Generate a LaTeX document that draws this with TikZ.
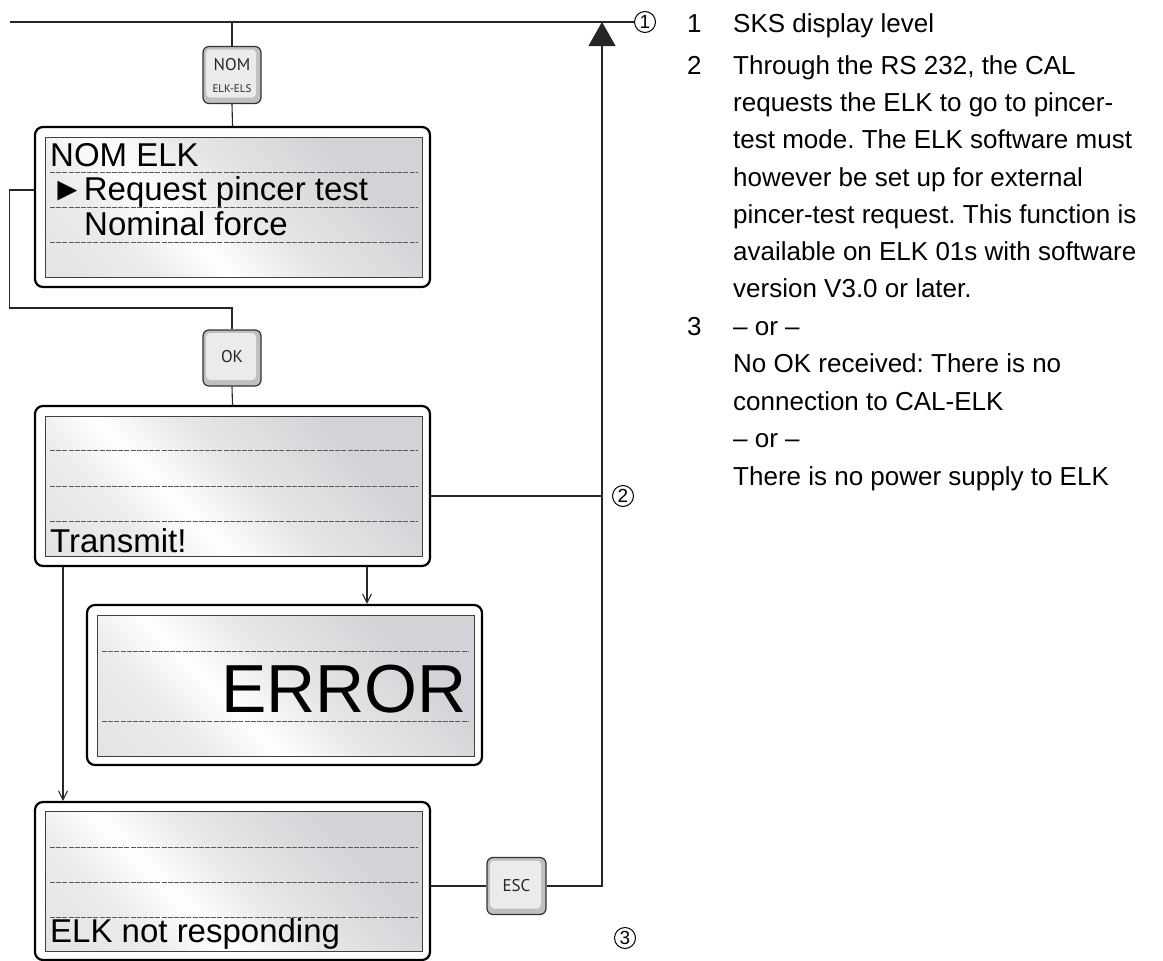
\documentclass[tikz,border=0pt]{standalone}
\usepackage{fontspec}
\setmainfont{Liberation Sans}
\newfontfamily\btnfont{PT Sans}
\usetikzlibrary{arrows.meta}
\definecolor{lcdg}{RGB}{210,211,214}
\pgfdeclarehorizontalshading{lcdshade}{100bp}{color(0bp)=(lcdg!80!white); color(30bp)=(lcdg!45!white); color(40bp)=(white); color(52bp)=(lcdg!55!white); color(72bp)=(lcdg); color(100bp)=(lcdg)}
\frenchspacing
\begin{document}
\begin{tikzpicture}[x=1pt,y=-1pt,
  conn/.style={line width=1.1pt, draw=black!85},
  arr/.style={conn, -{Straight Barb[length=9pt,width=9pt,line width=1pt]}},
  lcdouter/.style={draw=black, line width=2.2pt, rounded corners=8pt, fill=white, inner sep=0pt},
  lcdinner/.style={draw=black!75, line width=1pt, shading=lcdshade, shading angle=45, inner sep=0pt},
  lcddash/.style={draw=black!65, line width=1pt, dash pattern=on 5pt off 1.2pt},
  lcdtext/.style={font=\fontsize{33}{40}\selectfont, inner sep=0pt, anchor=base west},
  btn/.style={draw=black!80, line width=1.2pt, rounded corners=6pt, fill=black!25, inner sep=0pt, minimum width=58pt, minimum height=57pt},
  btnface/.style={rounded corners=4pt, fill=black!8, inner sep=0pt, minimum width=50pt, minimum height=48pt},
  btntext/.style={font=\btnfont\fontsize{17}{20}\selectfont, inner sep=0pt, text=black!85},
  btnsmall/.style={font=\btnfont\fontsize{11}{13}\selectfont, inner sep=0pt, text=black!85},
  numc/.style={circle, draw=black, line width=1pt, minimum size=21pt, inner sep=0pt, font=\fontsize{19}{19}\selectfont},
  leg/.style={font=\fontsize{26}{30}\selectfont, inner sep=0pt, anchor=base west},
]
\useasboundingbox (0,0) rectangle (1163,961);

% coordinates
\coordinate (rtop) at (602,22);
\coordinate (lstart) at (10,22);

% circled markers
\node[numc] (c1) at (645,22) {1};
\node[numc] (c2) at (623,496) {2};
\node[numc] (c3) at (625,938) {3};

% buttons
\node[btn] (nom) at (232,75) {};
\node[btnface] (nomf) at ([xshift=-1pt,yshift=1.5pt]nom.center) {};
\node[btntext] (nomt) at (232,65) {NOM};
\node[btnsmall] (nomt2) at (232,89) {ELK-ELS};

\node[btn, minimum height=56pt] (ok) at (232,358) {};
\node[btnface, minimum height=47pt] (okf) at ([xshift=-1pt,yshift=1.5pt]ok.center) {};
\node[btntext] (okt) at (232,357) {OK};

\node[btn, minimum width=59pt] (esc) at (516.5,886) {};
\node[btnface, minimum width=51pt] (escf) at ([xshift=-1pt,yshift=1.5pt]esc.center) {};
\node[btntext] (esct) at (516.5,886) {ESC};

% display 1
\node[lcdouter, minimum width=395pt, minimum height=160pt] (d1) at (232.5,207) {};
\node[lcdinner, minimum width=377pt, minimum height=140pt] (d1i) at (233.5,207) {};
\draw[lcddash] (50,172) -- (418,172);
\draw[lcddash] (50,207) -- (418,207);
\draw[lcddash] (50,242) -- (418,242);
\node[lcdtext] (d1t1) at (50,166) {NOM ELK};
\node[lcdtext] (d1t2) at (51,200) {►Request pincer test};
\node[lcdtext] (d1t3) at (84,235) {Nominal force};

% display 2
\node[lcdouter, minimum width=395pt, minimum height=160pt] (d2) at (232.5,486) {};
\node[lcdinner, minimum width=377pt, minimum height=140pt] (d2i) at (233.5,486) {};
\draw[lcddash] (50,450) -- (418,450);
\draw[lcddash] (50,486) -- (418,486);
\draw[lcddash] (50,521) -- (418,521);
\node[lcdtext] (d2t) at (50,552) {Transmit!};

% display 3
\node[lcdouter, minimum width=395pt, minimum height=160pt] (d3) at (284.5,685) {};
\node[lcdinner, minimum width=377pt, minimum height=141pt] (d3i) at (285.5,685.5) {};
\draw[lcddash] (102,651) -- (469,651);
\draw[lcddash] (102,721) -- (469,721);
\node[inner sep=0pt, anchor=base east, font=\fontsize{68}{80}\selectfont] (d3t) at (467,712) {ERROR};

% display 4
\node[lcdouter, minimum width=395pt, minimum height=158pt] (d4) at (232.5,881) {};
\node[lcdinner, minimum width=377pt, minimum height=140pt] (d4i) at (233.5,881) {};
\draw[lcddash] (50,847) -- (418,847);
\draw[lcddash] (50,882) -- (418,882);
\draw[lcddash] (50,917) -- (418,917);
\node[lcdtext] (d4t) at (50,942) {ELK not responding};

% connectors
\draw[conn] (lstart) -- (c1.west);
\draw[conn] (nom.north |- rtop) -- (nom.north);
\draw[conn] (nom.south) -- (d1.north);
\draw[conn] ([yshift=17pt]d1.west) -- ++(-24,0) |- (ok.north |- 0,308) -- (ok.north);
\draw[conn] (ok.south) -- (d2.north);
\draw[conn] ([yshift=-10pt]d2.east) -- ([yshift=-10pt]d2.east -| rtop);
\draw[arr] ([xshift=134.5pt]d2.south) -- ([xshift=134.5pt]d2.south |- d3.north);
\draw[arr] ([xshift=-169.5pt]d2.south) -- ([xshift=-169.5pt]d2.south |- d4.north);
\draw[conn] ([yshift=-5pt]d4.east) -- (esc.west);
\draw[conn, -{Triangle[length=24pt,width=27pt]}] (esc.east) -- (esc.east -| rtop) -- (rtop);

% legend
\node[leg] (n1) at (687,32) {1};
\node[leg] (t1) at (733,32) {SKS display level};
\node[leg] (n2) at (687,74) {2};
\node[leg] (t2a) at (733,74) {Through the RS 232, the CAL};
\node[leg] (t2b) at (733,111) {requests the ELK to go to pincer-};
\node[leg] (t2c) at (733,148) {test mode. The ELK software must};
\node[leg] (t2d) at (733,186) {however be set up for external};
\node[leg] (t2e) at (733,223) {pincer-test request. This function is};
\node[leg] (t2f) at (733,260) {available on ELK 01s with software};
\node[leg] (t2g) at (733,297) {version V3.0 or later.};
\node[leg] (n3) at (687,335) {3};
\node[leg] (t3a) at (733,335) {– or –};
\node[leg] (t3b) at (733,372) {No OK received: There is no};
\node[leg] (t3c) at (733,410) {connection to CAL-ELK};
\node[leg] (t3d) at (733,447) {– or –};
\node[leg] (t3e) at (733,485) {There is no power supply to ELK};
\end{tikzpicture}
\end{document}
